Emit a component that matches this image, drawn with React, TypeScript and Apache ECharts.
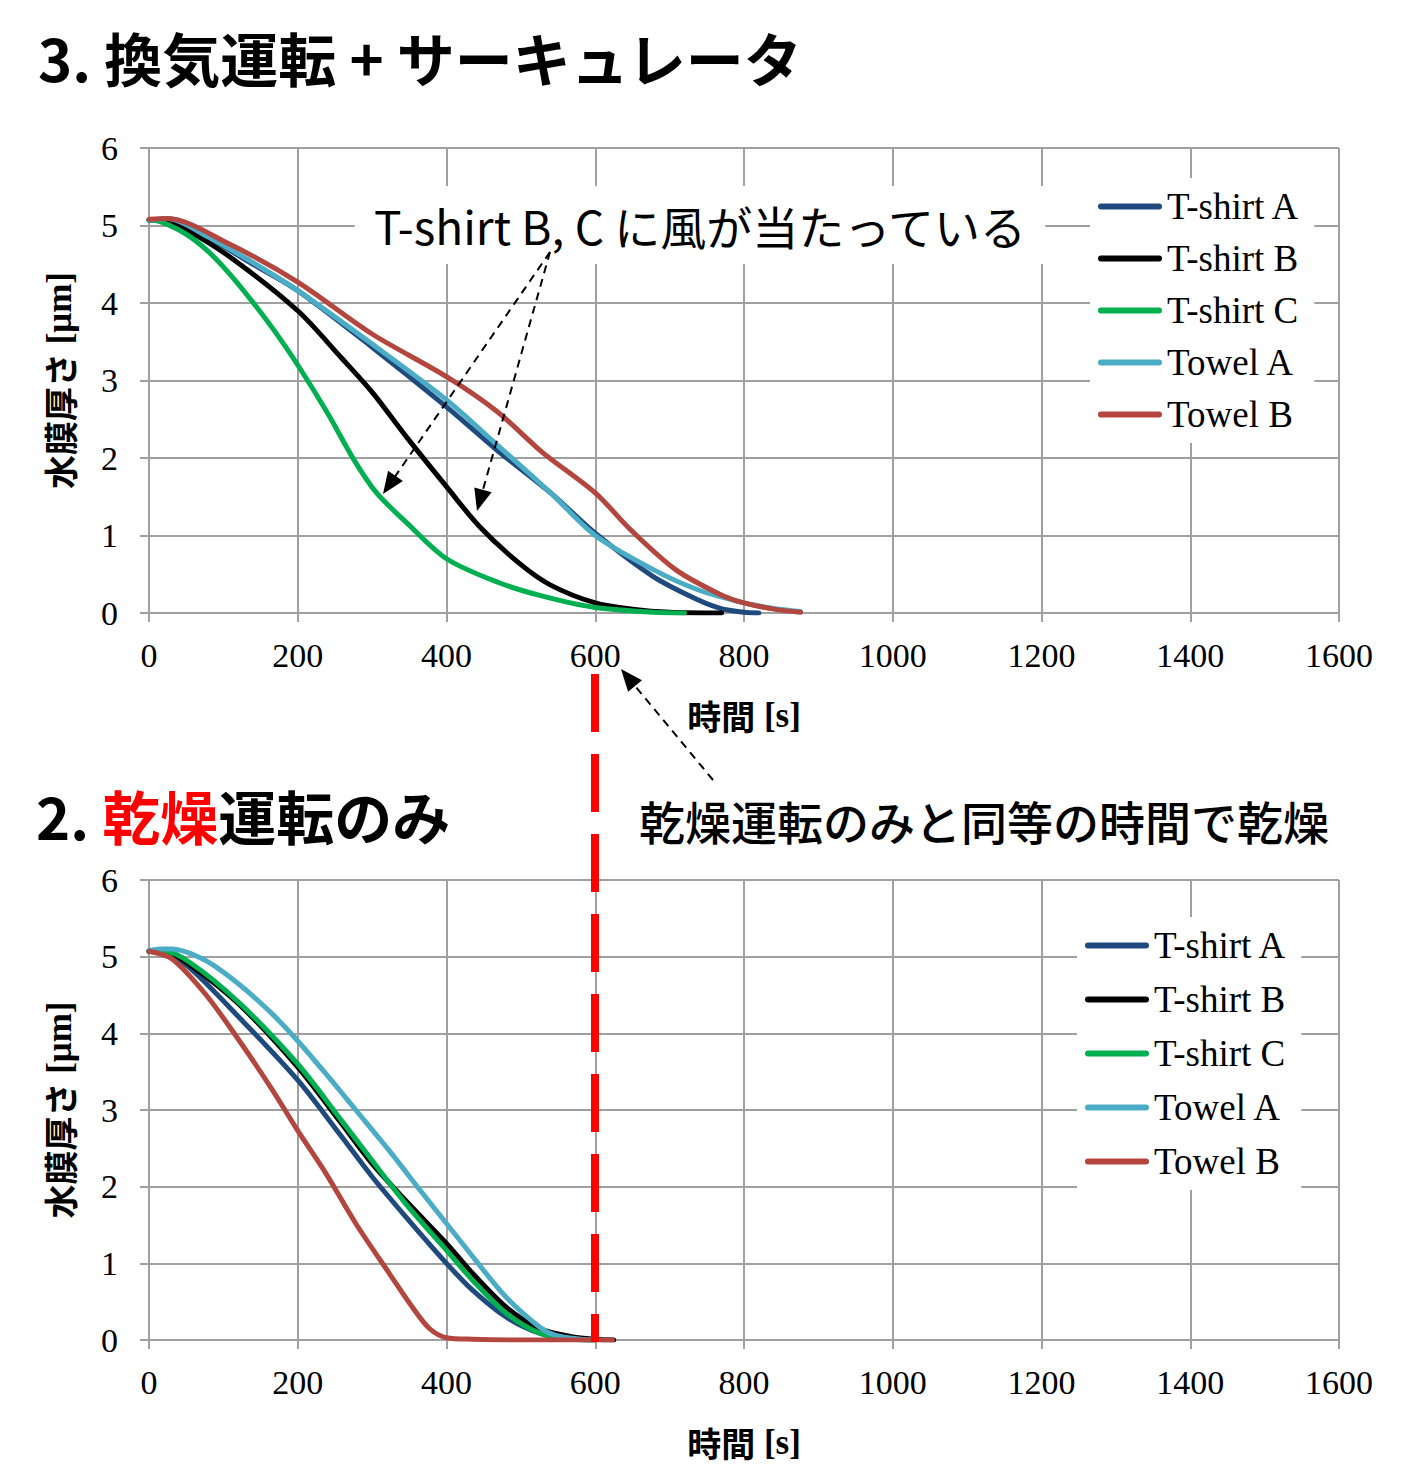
import React, { useEffect, useRef } from "react";
import * as echarts from "echarts";

// ---- Data (time [s], water film thickness [µm]) ----
const seriesNames = ["T-shirt A", "T-shirt B", "T-shirt C", "Towel A", "Towel B"];
const seriesColors = ["#1F4A7E", "#000000", "#00B050", "#4BACC6", "#B3463F"];

const xTicks = [0, 200, 400, 600, 800, 1000, 1200, 1400, 1600];
const yTicks = [0, 1, 2, 3, 4, 5, 6];

// 3. ventilation + circulator
const topTshirtA: number[][] = [[0, 5.07], [25, 5.08], [78, 4.85], [140, 4.5], [200, 4.16], [300, 3.43], [400, 2.66], [468, 2.1], [540, 1.55], [600, 1.03], [678, 0.47], [738, 0.17], [768, 0.06], [800, 0.01], [820, 0]];
const topTshirtB: number[][] = [[0, 5.07], [20, 5.08], [48, 4.96], [108, 4.6], [200, 3.9], [258, 3.3], [300, 2.85], [348, 2.25], [400, 1.63], [444, 1.12], [498, 0.64], [540, 0.36], [600, 0.13], [650, 0.05], [700, 0.01], [770, 0]];
const topTshirtC: number[][] = [[0, 5.07], [15, 5.05], [48, 4.9], [78, 4.68], [108, 4.38], [138, 4.03], [168, 3.65], [200, 3.2], [240, 2.58], [276, 1.97], [306, 1.55], [348, 1.15], [400, 0.7], [468, 0.4], [528, 0.22], [600, 0.07], [678, 0.01], [720, 0]];
const topTowelA: number[][] = [[0, 5.07], [25, 5.09], [78, 4.86], [140, 4.52], [200, 4.16], [300, 3.47], [400, 2.75], [468, 2.17], [540, 1.55], [600, 1.0], [678, 0.56], [738, 0.3], [800, 0.13], [840, 0.06], [876, 0.02]];
const topTowelB: number[][] = [[0, 5.08], [25, 5.09], [108, 4.76], [200, 4.27], [300, 3.6], [400, 3.05], [468, 2.6], [528, 2.08], [600, 1.55], [648, 1.07], [708, 0.56], [768, 0.24], [800, 0.13], [840, 0.05], [876, 0.01]];

// 2. drying only
const botTshirtA: number[][] = [[0, 5.07], [20, 5.06], [54, 4.86], [121, 4.21], [200, 3.39], [256, 2.69], [300, 2.13], [345, 1.61], [400, 1.0], [435, 0.65], [480, 0.3], [525, 0.09], [570, 0.01], [600, 0]];
const botTshirtB: number[][] = [[0, 5.07], [20, 5.07], [54, 4.9], [121, 4.38], [200, 3.56], [256, 2.86], [300, 2.3], [345, 1.82], [400, 1.26], [435, 0.87], [480, 0.43], [525, 0.15], [570, 0.04], [600, 0.01], [625, 0]];
const botTshirtC: number[][] = [[0, 5.07], [20, 5.07], [54, 4.93], [121, 4.4], [200, 3.6], [256, 2.9], [300, 2.34], [345, 1.78], [400, 1.17], [435, 0.78], [480, 0.35], [525, 0.09], [570, 0.01], [600, 0]];
const botTowelA: number[][] = [[0, 5.08], [15, 5.1], [30, 5.1], [76, 4.95], [121, 4.64], [166, 4.25], [200, 3.9], [238, 3.47], [278, 3.0], [323, 2.47], [368, 1.91], [400, 1.52], [435, 1.09], [480, 0.56], [525, 0.17], [547, 0.06], [580, 0.01], [600, 0]];
const botTowelB: number[][] = [[0, 5.07], [31, 4.97], [76, 4.51], [121, 3.91], [166, 3.26], [200, 2.73], [238, 2.17], [278, 1.52], [323, 0.87], [354, 0.43], [377, 0.15], [400, 0.03], [435, 0.01], [500, 0], [623, 0]];

const topData = [topTshirtA, topTshirtB, topTshirtC, topTowelA, topTowelB];
const botData = [botTshirtA, botTshirtB, botTshirtC, botTowelA, botTowelB];

const SERIF = '"Liberation Serif", "Times New Roman", serif';
const JP = '"Noto Sans CJK JP", sans-serif';
const GRID_GRAY = "#A0A0A0";
const LEGEND_ICON = "path://M3,0H61A3,3,0,0,1,61,6H3A3,3,0,0,1,3,0Z";

function arrowHead(x1: number, y1: number, x2: number, y2: number, len = 22, half = 9) {
  const dx = x2 - x1, dy = y2 - y1;
  const d = Math.sqrt(dx * dx + dy * dy);
  const ux = dx / d, uy = dy / d;
  const bx = x2 - ux * len, by = y2 - uy * len;
  return [[x2, y2], [bx - uy * half, by + ux * half], [bx + uy * half, by - ux * half]];
}

function arrow(x1: number, y1: number, x2: number, y2: number) {
  const len = 22;
  const dx = x2 - x1, dy = y2 - y1;
  const d = Math.sqrt(dx * dx + dy * dy);
  return [
    {
      type: "line", z: 30,
      shape: { x1, y1, x2: x2 - (dx / d) * len * 0.8, y2: y2 - (dy / d) * len * 0.8 },
      style: { stroke: "#000", lineWidth: 2, lineDash: [8, 6] },
    },
    { type: "polygon", z: 30, shape: { points: arrowHead(x1, y1, x2, y2, len) }, style: { fill: "#000" } },
  ];
}

function makeAxes(gridIndex: number) {
  const nameRich = {
    j: { fontFamily: JP, fontWeight: "bold", fontSize: 34, color: "#000" },
    e: { fontFamily: SERIF, fontWeight: "bold", fontSize: 35, color: "#000" },
  };
  const xAxis = {
    type: "value", gridIndex, min: 0, max: 1600, interval: 200,
    name: "{j|時間}{e| [s]}", nameLocation: "middle", nameGap: 85,
    nameTextStyle: { rich: nameRich },
    axisLine: { show: true, lineStyle: { color: GRID_GRAY, width: 2 } },
    axisTick: { show: true, length: 9, lineStyle: { color: GRID_GRAY, width: 2 } },
    axisLabel: { color: "#000", fontFamily: SERIF, fontSize: 34, margin: 25, formatter: (v: number) => (xTicks.includes(v) ? String(v) : "") },
    splitLine: { show: true, lineStyle: { color: GRID_GRAY, width: 2 } },
  };
  const yAxis = {
    type: "value", gridIndex, min: 0, max: 6, interval: 1,
    name: "{j|水膜厚さ}{e| [μm]}", nameLocation: "middle", nameGap: 72, nameRotate: 90,
    nameTextStyle: { rich: nameRich },
    axisLine: { show: true, lineStyle: { color: GRID_GRAY, width: 2 } },
    axisTick: { show: true, length: 9, lineStyle: { color: GRID_GRAY, width: 2 } },
    axisLabel: { color: "#000", fontFamily: SERIF, fontSize: 34, margin: 31, formatter: (v: number) => (yTicks.includes(v) ? String(v) : "") },
    splitLine: { show: true, lineStyle: { color: GRID_GRAY, width: 2 } },
  };
  return { xAxis, yAxis };
}

function makeSeries(data: number[][][], gridIdx: number) {
  return data.map((d, i) => ({
    type: "line",
    name: seriesNames[i],
    xAxisIndex: gridIdx,
    yAxisIndex: gridIdx,
    data: d,
    showSymbol: false,
    symbol: "none",
    smooth: 0.3,
    color: seriesColors[i],
    itemStyle: { color: seriesColors[i] },
    lineStyle: { color: seriesColors[i], width: 5, cap: "round", join: "round" },
    z: 3,
  }));
}

function makeLegend(left: number, top: number, gap: number) {
  return {
    show: true,
    orient: "vertical",
    left, top,
    data: seriesNames,
    icon: LEGEND_ICON,
    itemWidth: 64,
    itemHeight: 6,
    itemGap: gap,
    backgroundColor: "#fff",
    padding: [10, 14, 10, 8],
    selectedMode: false,
    textStyle: { fontFamily: SERIF, fontSize: 37, color: "#000", lineHeight: 37, padding: [0, 0, 0, 0] },
    z: 20,
  };
}

export default function App() {
  const ref = useRef<HTMLDivElement>(null);
  useEffect(() => {
    if (!ref.current) return;
    const chart = echarts.init(ref.current, null, { renderer: "svg" });
    const top = makeAxes(0);
    const bot = makeAxes(1);
    const option: any = {
      animation: false,
      backgroundColor: "#fff",
      grid: [
        { left: 149, top: 148, width: 1190, height: 465 },
        { left: 149, top: 880, width: 1190, height: 460 },
      ],
      xAxis: [top.xAxis, bot.xAxis],
      yAxis: [top.yAxis, bot.yAxis],
      legend: [makeLegend(1090, 178, 15), makeLegend(1077, 917, 17)],
      series: [...makeSeries(topData, 0), ...makeSeries(botData, 1)],
      graphic: [
        {
          type: "text", z: 40, x: 38, y: 57,
          style: { text: "3. 換気運転 + サーキュレータ", font: `bold 58px ${JP}`, fill: "#000", verticalAlign: "middle" },
        },
        {
          type: "text", z: 40, x: 36, y: 815,
          style: {
            text: "{b|2. }{r|乾燥}{b|運転のみ}", verticalAlign: "middle",
            rich: {
              b: { fontFamily: JP, fontWeight: "bold", fontSize: 58, fill: "#000" },
              r: { fontFamily: JP, fontWeight: "bold", fontSize: 58, fill: "#FF0000" },
            },
          },
        },
        {
          type: "text", z: 25, x: 700, y: 225,
          style: {
            text: "T-shirt B, C に風が当たっている", font: `46px ${JP}`, fill: "#000",
            align: "center", verticalAlign: "middle", backgroundColor: "#fff", padding: [16, 18],
          },
        },
        {
          type: "text", z: 25, x: 984, y: 820,
          style: {
            text: "乾燥運転のみと同等の時間で乾燥", font: `500 46px ${JP}`, fill: "#000",
            align: "center", verticalAlign: "middle", backgroundColor: "#fff", padding: [10, 22],
          },
        },
        {
          type: "line", z: 28,
          shape: { x1: 595, y1: 674, x2: 595, y2: 1342 },
          style: { stroke: "#FF0000", lineWidth: 8, lineDash: [58, 22] },
        },
        ...arrow(550, 252, 383, 494),
        ...arrow(550, 252, 477, 511),
        ...arrow(713, 780, 621, 669),
      ],
    };
    chart.setOption(option);
    return () => chart.dispose();
  }, []);
  return (
    <div
      ref={ref}
      style={{ position: "fixed", left: 0, top: 0, width: 1428, height: 1484, background: "#fff" }}
    />
  );
}
